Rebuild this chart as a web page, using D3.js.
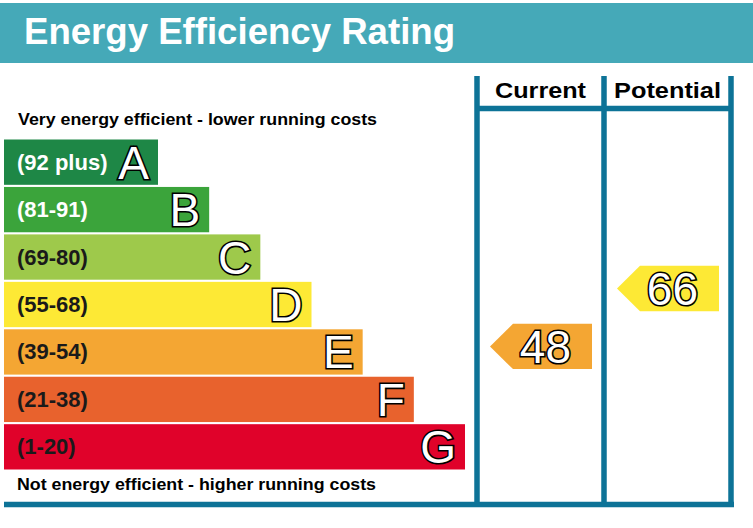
<!DOCTYPE html>
<html>
<head>
<meta charset="utf-8">
<script src="https://cdn.jsdelivr.net/npm/d3@7"></script>
<style>
  body { margin: 0; background: #fff; }
  text { font-family: "Liberation Sans", Arial, sans-serif; }
</style>
</head>
<body>
<div id="chart"></div>
<script>
// rating bands, top (best) to bottom (worst)
const ratings = ['A', 'B', 'C', 'D', 'E', 'F', 'G'];
const rangeLabels = ['(92 plus)', '(81-91)', '(69-80)', '(55-68)', '(39-54)', '(21-38)', '(1-20)'];
const bandMin = [92, 81, 69, 55, 39, 21, 1];

// the two score columns
const columns = ['Current', 'Potential'];
const scores = [48, 66];

const title = 'Energy Efficiency Rating';
const topNote = 'Very energy efficient - lower running costs';
const bottomNote = 'Not energy efficient - higher running costs';

// styling
const bandColors = ['#1e8746', '#3ba43b', '#9ec94b', '#fde935', '#f4a633', '#e8622d', '#e0022a'];
const darkLabel = ['C', 'D', 'E', 'F', 'G'];
const frameColor = '#0d7397';
const teal = '#45a9b8';

const width = 753;
const height = 528;

const svg = d3.select('#chart').append('svg')
  .attr('width', width)
  .attr('height', height);

const color = d3.scaleOrdinal(ratings, bandColors);

// header band
svg.append('rect')
  .attr('x', 0).attr('y', 3)
  .attr('width', width).attr('height', 60)
  .attr('fill', teal);

svg.append('text')
  .attr('x', 24).attr('y', 44)
  .attr('fill', '#fff')
  .attr('font-size', 37)
  .attr('font-weight', 'bold')
  .attr('textLength', 431)
  .attr('lengthAdjust', 'spacingAndGlyphs')
  .text(title);

// bars
const y = d3.scaleBand()
  .domain(ratings)
  .range([139.5, 469.5])
  .paddingInner(0.045);

const barEnd = d3.scaleLinear()
  .domain([0, ratings.length - 1])
  .range([158, 465]);

const bars = svg.append('g').selectAll('g')
  .data(ratings)
  .join('g');

bars.append('rect')
  .attr('x', 4)
  .attr('y', d => y(d))
  .attr('width', (d, i) => barEnd(i) - 4)
  .attr('height', y.bandwidth())
  .attr('fill', d => color(d));

bars.append('text')
  .attr('x', 17)
  .attr('y', d => y(d) + y.bandwidth() / 2 + 7.5)
  .attr('font-size', 22)
  .attr('font-weight', 'bold')
  .attr('fill', d => darkLabel.includes(d) ? '#1a1a1a' : '#fff')
  .text((d, i) => rangeLabels[i]);

bars.append('text')
  .attr('x', (d, i) => barEnd(i) - 9)
  .attr('y', d => y(d) + y.bandwidth() / 2 + 16.5)
  .attr('text-anchor', 'end')
  .attr('font-size', 46)
  .attr('fill', '#fff')
  .attr('stroke', '#000')
  .attr('stroke-width', 3.2)
  .attr('paint-order', 'stroke')
  .text(d => d);

// notes
svg.append('text')
  .attr('x', 18).attr('y', 125)
  .attr('font-size', 16).attr('font-weight', 'bold')
  .attr('textLength', 359).attr('lengthAdjust', 'spacingAndGlyphs')
  .text(topNote);

svg.append('text')
  .attr('x', 17).attr('y', 490)
  .attr('font-size', 16.5).attr('font-weight', 'bold')
  .attr('textLength', 359).attr('lengthAdjust', 'spacingAndGlyphs')
  .text(bottomNote);

// columns frame
const colX = d3.scaleBand()
  .domain(columns)
  .range([477, 731]);

const frame = svg.append('g')
  .attr('stroke', frameColor)
  .attr('stroke-width', 5.5)
  .attr('fill', 'none');

[477, 604, 731].forEach(xv => {
  frame.append('line')
    .attr('x1', xv).attr('x2', xv)
    .attr('y1', 76).attr('y2', 507);
});
frame.append('line')
  .attr('x1', 477).attr('x2', 731)
  .attr('y1', 108.5).attr('y2', 108.5);
frame.append('line')
  .attr('x1', 4).attr('x2', 734)
  .attr('y1', 504.5).attr('y2', 504.5);

svg.append('g').selectAll('text')
  .data(columns)
  .join('text')
  .attr('x', d => colX(d) + colX.bandwidth() / 2)
  .attr('y', 98)
  .attr('text-anchor', 'middle')
  .attr('font-size', 22)
  .attr('font-weight', 'bold')
  .attr('textLength', (d, i) => [91, 107][i])
  .attr('lengthAdjust', 'spacingAndGlyphs')
  .text(d => d);

// score arrows
const yScore = d3.scaleLinear()
  .domain([0, 100])
  .range([501, 179]);

const bandOf = v => ratings[bandMin.findIndex(m => v >= m)];

const arrowH = y.bandwidth();
const arrows = svg.append('g').selectAll('g')
  .data(columns.map((c, i) => ({ column: c, score: scores[i] })))
  .join('g')
  .attr('transform', d => `translate(${colX(d.column)},${yScore(d.score)})`);

arrows.append('path')
  .attr('d', () => {
    const left = 13, right = 115, tip = 23, h = arrowH / 2;
    return `M${left},0 L${left + tip},${-h} L${right},${-h} L${right},${h} L${left + tip},${h} Z`;
  })
  .attr('fill', d => color(bandOf(d.score)));

arrows.append('text')
  .attr('x', 94)
  .attr('y', 16.5)
  .attr('text-anchor', 'end')
  .attr('font-size', 46)
  .attr('fill', '#fff')
  .attr('stroke', '#000')
  .attr('stroke-width', 3.2)
  .attr('paint-order', 'stroke')
  .text(d => d.score);
</script>
</body>
</html>
